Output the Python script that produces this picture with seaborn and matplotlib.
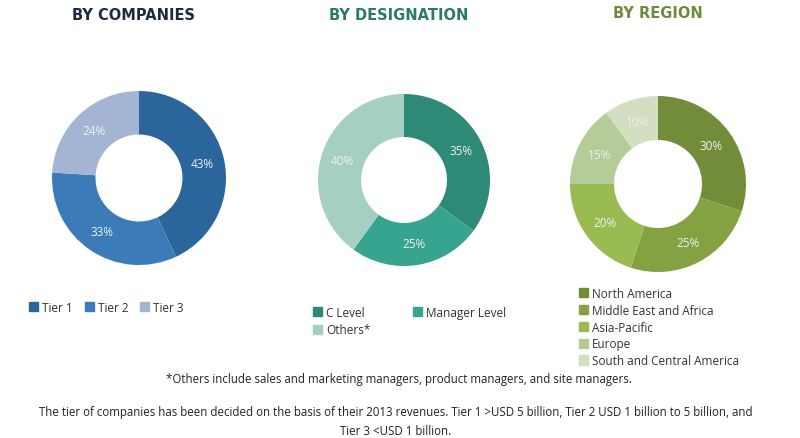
#!/usr/bin/env python3
"""Three donut charts: breakdown by companies, designation and region"""

import matplotlib.pyplot as plt
from matplotlib.patches import Patch
import seaborn as sns

sns.set_style("white")
plt.rcParams['font.family'] = ['Open Sans', 'DejaVu Sans']

W, H = 800, 439

companies = ['Tier 1', 'Tier 2', 'Tier 3']
companies_values = [43, 33, 24]
companies_colors = ['#2a659b', '#3a7bb8', '#a3b5d3']

designations = ['C Level', 'Manager Level', 'Others*']
designations_values = [35, 25, 40]
designations_colors = ['#2e8a77', '#36a48f', '#a6cfc3']

regions = ['North America', 'Middle East and Africa', 'Asia-Pacific', 'Europe',
           'South and Central America']
regions_values = [30, 25, 20, 15, 10]
regions_colors = ['#728c3a', '#85a243', '#9aba52', '#b5cb98', '#d2dfc0']

note_others = '*Others include sales and marketing managers, product managers, and site managers.'
note_tier_1 = ('The tier of companies has been decided on the basis of their 2013 revenues. '
               'Tier 1 >USD 5 billion, Tier 2 USD 1 billion to 5 billion, and')
note_tier_2 = 'Tier 3 <USD 1 billion.'


def draw_donut(fig, cx, cy, radius, values, colors):
    """Dibuja un donut centrado en (cx, cy), en pixeles desde arriba"""
    ax = fig.add_axes([(cx - radius) / W, 1 - (cy + radius) / H,
                       2 * radius / W, 2 * radius / H])
    wedges, texts, pcts = ax.pie(values, colors=colors, startangle=90, counterclock=False,
                                 radius=1, autopct='%d%%', pctdistance=0.75,
                                 wedgeprops=dict(width=0.5, linewidth=0),
                                 textprops=dict(color='#eef2f0', fontsize=8.5))
    ax.set_xlim(-1, 1)
    ax.set_ylim(-1, 1)
    return ax


def add_legend(fig, labels, colors, x, y, ncol=1, **kwargs):
    handles = [Patch(color=c, label=l) for c, l in zip(colors, labels)]
    fig.legend(handles=handles, loc='upper left', bbox_to_anchor=(x / W, 1 - y / H),
               ncol=ncol, frameon=False, fontsize=8.5, labelcolor='#333333',
               handlelength=0.8, handleheight=0.8, handletextpad=0.3,
               borderpad=0, borderaxespad=0, **kwargs)


def main():
    fig = plt.figure(figsize=(W / 100, H / 100), dpi=100)

    title_font = ['Liberation Sans Narrow', 'DejaVu Sans']
    fig.text(134 / W, 1 - 15 / H, 'BY COMPANIES', ha='center', va='center', fontsize=10.5,
             fontweight='bold', family=title_font, color='#1c2b3f')
    fig.text(399 / W, 1 - 15 / H, 'BY DESIGNATION', ha='center', va='center', fontsize=10.5,
             fontweight='bold', family=title_font, color='#2a7a68')
    fig.text(658 / W, 1 - 13 / H, 'BY REGION', ha='center', va='center', fontsize=10.5,
             fontweight='bold', family=title_font, color='#6f8a3f')

    draw_donut(fig, 139, 179, 87, companies_values, companies_colors)
    draw_donut(fig, 404, 181, 86, designations_values, designations_colors)
    draw_donut(fig, 658, 185, 88, regions_values, regions_colors)

    add_legend(fig, companies, companies_colors, 29, 302, ncol=3, columnspacing=1.0)
    # el orden por columnas deja Others* debajo de C Level
    add_legend(fig,
               [designations[0], designations[2], designations[1]],
               [designations_colors[0], designations_colors[2], designations_colors[1]],
               313, 307, ncol=2, columnspacing=3.6, labelspacing=0.35)
    add_legend(fig, regions, regions_colors, 579, 288, labelspacing=0.32)

    fig.text(399 / W, 1 - 380 / H, note_others, ha='center', va='center',
             fontsize=8.3, color='#222222')
    fig.text(396 / W, 1 - 413 / H, note_tier_1, ha='center', va='center',
             fontsize=8.3, color='#222222')
    fig.text(396 / W, 1 - 432 / H, note_tier_2, ha='center', va='center',
             fontsize=8.3, color='#222222')

    fig.savefig('out.png', dpi=100)
    plt.close(fig)


if __name__ == "__main__":
    main()
